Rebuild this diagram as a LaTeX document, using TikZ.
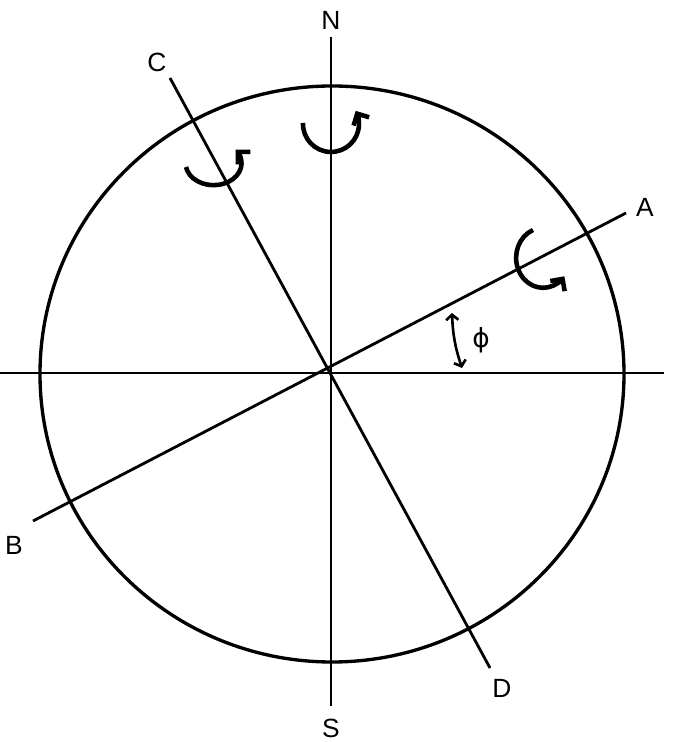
\documentclass[tikz,border=0pt]{standalone}
\usepackage{fontspec}
\setmainfont{Liberation Sans}
\newfontfamily\greekfont{DejaVu Sans}
\usepackage{tikz}
\usetikzlibrary{shapes,arrows,arrows.meta}
\tikzstyle{pole} = [font=\fontsize{15}{17}\selectfont, inner sep=0pt]
\tikzstyle{axis} = [draw, line width=1.6pt]
\tikzstyle{spin} = [draw, line width=2.6pt, -{Straight Barb[length=5pt,width=10pt]}]
\tikzstyle{angleline} = [draw, line width=1.5pt, {Straight Barb[length=3pt,width=7pt]}-{Straight Barb[length=3pt,width=7pt]}]

\begin{document}
\begin{tikzpicture}[x=0.02cm, y=0.02cm]
\useasboundingbox (-331,-369) rectangle (345,373);
% Place nodes
\coordinate (centre) at (0,0);
\node [pole] (north) at (0,353) {N};
\node [pole] (south) at (0,-355) {S};
\node [pole] (A) at (314,166) {A};
\node [pole] (B) at (-317,-172) {B};
\node [pole] (C) at (-174,311) {C};
\node [pole] (D) at (171,-315) {D};
\node (phi) at (150,33) {\greekfont\fontsize{15}{17}\selectfont ϕ};
\coordinate (nend) at (0,336);
\coordinate (send) at (0,-333);
\coordinate (west) at (-331,0);
\coordinate (east) at (333,0);
\coordinate (aend) at (295,160);
\coordinate (bend) at (-298,-148);
\coordinate (cend) at (-161,295);
\coordinate (dend) at (159,-295);
\coordinate (phitop) at (121,60);
\coordinate (phibot) at (131,5);
% Draw edges
\draw [line width=1.9pt] (1,-1) ellipse [x radius=292, y radius=288];
\path [axis] (west) -- (east);
\path [axis] (nend) -- (send);
\path [axis] (aend) -- (bend);
\path [axis] (cend) -- (dend);
\path [angleline] (phitop) to [bend right=8] (phibot);
% rotation arrows
\path [spin] (-145,206) arc [start angle=190, end angle=398, x radius=28, y radius=22];
\path [spin] (-28,250) arc [start angle=178, end angle=388, x radius=28, y radius=28];
\path [spin] (202,143) arc [start angle=112, end angle=322, x radius=27, y radius=30];
\end{tikzpicture}
\end{document}
